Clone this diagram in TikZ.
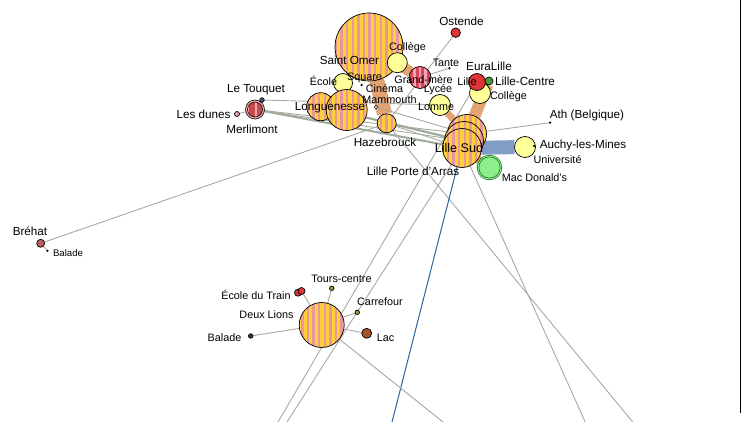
\documentclass[tikz,border=0pt]{standalone}
\usepackage{fontspec}
\setmainfont{Liberation Sans}
\usetikzlibrary{patterns.meta}

\definecolor{stripeyellow}{HTML}{FFD03C}
\definecolor{stripepink}{HTML}{E8979A}
\definecolor{paleyellow}{HTML}{FFFF99}
\definecolor{linkgray}{HTML}{A9A9A0}
\definecolor{greengray}{HTML}{9DAA9C}
\definecolor{bandtan}{HTML}{E3A373}
\definecolor{bandblue}{HTML}{809DC8}
\definecolor{lineblue}{HTML}{2A64A2}
\definecolor{spotred}{HTML}{E03535}
\definecolor{gmred}{HTML}{DC4458}
\definecolor{gmpink}{HTML}{F2A2B4}
\definecolor{merlired}{HTML}{C44C4C}
\definecolor{merlipink}{HTML}{F0A8AC}
\definecolor{dunepink}{HTML}{E6A0A8}
\definecolor{slate}{HTML}{4E5278}
\definecolor{brehatred}{HTML}{B86060}
\definecolor{centregreen}{HTML}{4C9A3C}
\definecolor{mcgreen}{HTML}{8CEE8C}
\definecolor{mcdark}{HTML}{1F6A1F}
\definecolor{olive}{HTML}{8DA838}
\definecolor{lacbrown}{HTML}{A4502A}
\definecolor{darkbrown}{HTML}{5A3020}

\pgfdeclarelayer{edges}
\pgfsetlayers{edges,main}

\begin{document}
\begin{tikzpicture}[x=1pt, y=-1pt]
	\tikzstyle{spot} = [circle, draw=black, line width=0.7pt, inner sep=0pt, outer sep=0pt]
	\tikzstyle{stripy} = [spot, preaction={fill=stripeyellow}, pattern={Lines[angle=90, distance=5.6pt, line width=2.4pt]}, pattern color=stripepink]
	\tikzstyle{redstripy} = [spot, preaction={fill=gmred}, pattern={Lines[angle=90, distance=5.6pt, line width=2.6pt]}, pattern color=gmpink]
	\tikzstyle{pale} = [spot, fill=paleyellow]
	\tikzstyle{pin} = [circle, fill=black, inner sep=0pt, minimum size=3pt]
	\tikzstyle{lbl} = [inner sep=0pt, font=\fontsize{11.7}{13}\selectfont]
	\tikzstyle{lblsmall} = [inner sep=0pt, font=\fontsize{10.8}{12}\selectfont]
	\tikzstyle{link} = [draw=linkgray, line width=0.9pt]
	\tikzstyle{band} = [draw=bandtan, line width=10pt]

	\useasboundingbox (0,0) rectangle (741,422);

	% Bretagne
	\node[spot, fill=brehatred, minimum size=8pt] (brehat) at (40.7,243.3) {};
	\node[pin, minimum size=2.5pt] (brehatbalade) at (47.3,250.7) {};

	% Cote d'Opale
	\node[spot, fill=dunepink, minimum size=5pt] (dunes) at (237,114) {};
	\node[spot, draw=black, double=merlipink, double distance=1.2pt, preaction={fill=merlired}, pattern={Lines[angle=90, distance=8pt, line width=2.5pt]}, pattern color=merlipink, minimum size=17pt] (merlimont) at (255,109.5) {};
	\node[spot, fill=slate, minimum size=4.5pt] (touquet) at (262,100) {};

	% Saint Omer
	\node[stripy, minimum size=68pt] (stomer) at (369,47) {};
	\node[pale, minimum size=20pt] (college) at (397.3,62.7) {};
	\node[pale, minimum size=19pt] (ecole) at (343,83) {};
	\node[stripy, minimum size=28pt] (longuenesseA) at (320.7,106.7) {};
	\node[stripy, minimum size=41pt] (longuenesse) at (346.7,110) {};
	\node[pin, minimum size=2.5pt] (square) at (361.7,85) {};
	\node[circle, draw=black, fill=white, line width=0.6pt, inner sep=0pt, minimum size=3.5pt] (mammouth) at (376,107) {};
	\node[stripy, minimum size=19pt] (hazebrouck) at (386.7,123.3) {};
	\node[redstripy, minimum size=22pt] (grandmere) at (420,77.5) {};
	\node[pin, minimum size=2.5pt] (tante) at (449.3,68.3) {};
	\node[spot, fill=spotred, minimum size=9.5pt] (ostende) at (455.7,32.7) {};
	\node[pale, minimum size=21pt] (lomme) at (440,105) {};

	% Lille
	\node[pale, minimum size=21pt] (collegeB) at (480,93) {};
	\node[spot, fill=spotred, minimum size=17pt] (euralille) at (477,82) {};
	\node[spot, fill=centregreen, minimum size=8pt] (lillecentre) at (489,81) {};
	\node[stripy, minimum size=39pt] (lillesudA) at (467,134) {};
	\node[stripy, minimum size=39pt] (lillesudB) at (464,141) {};
	\node[stripy, minimum size=39pt] (lillesud) at (462,148) {};
	\node[spot, draw=mcdark, double=mcgreen, double distance=0.9pt, fill=mcgreen, minimum size=23pt] (mcdo) at (489.5,167.5) {};
	\node[pale, minimum size=21pt] (auchy) at (525,147) {};
	\node[pin, minimum size=2.5pt] (universite) at (534,146) {};
	\node[pin, minimum size=2.5pt] (ath) at (550,122.7) {};

	% Tours
	\node[stripy, minimum size=45pt] (deuxlions) at (321.7,325) {};
	\node[spot, fill=spotred, minimum size=7pt] (etrain) at (298,292.7) {};
	\node[spot, fill=spotred, minimum size=7pt] (etrainB) at (301.5,291) {};
	\node[spot, fill=olive, minimum size=4.5pt] (tours) at (331.7,288.3) {};
	\node[spot, fill=olive, minimum size=4.5pt] (carrefour) at (357.3,312.3) {};
	\node[spot, fill=lacbrown, minimum size=10pt] (lac) at (366.7,333.3) {};
	\node[spot, fill=darkbrown, minimum size=4.5pt] (balade) at (250.7,336) {};

	% ends of the links that leave the view
	\coordinate (offA) at (275.7,426);
	\coordinate (offB) at (284.5,426);
	\coordinate (offC) at (636,426);
	\coordinate (offD) at (587,426);
	\coordinate (offE) at (391,426);
	\coordinate (offF) at (448,426);

	\begin{pgfonlayer}{edges}
	\clip (0,0) rectangle (741,422);
	\path
	(stomer) edge[band, line width=11pt] (grandmere)
	(stomer) edge[band, line width=15pt] (hazebrouck)
	(lomme) edge[band, line width=7pt] (lillesudA)
	(lillesudA) edge[band, line width=12pt] (lillecentre)
	(lillesud) edge[band, line width=8pt] (mcdo)
	(lillesud) edge[draw=bandblue, line width=14pt] (auchy)

	(brehat) edge[draw=bandtan, line width=1pt] (brehatbalade)
	(brehat) edge[link] (hazebrouck)
	(dunes) edge[link] (merlimont)
	(touquet) edge[link] (lomme)
	(merlimont) edge[link, draw=greengray, line width=2pt] (lillesud)
	(merlimont) edge[link] (lillesudA)
	(merlimont) edge[link] (lillesudB)
	(longuenesseA) edge[link, draw=greengray, line width=2.2pt] (lillesudB)
	(mammouth) edge[link] (lillesudA)
	(hazebrouck) edge[link] (lillesud)
	(ostende) edge[link] (hazebrouck)
	(grandmere) edge[link] (tante)
	(lillesudA) edge[link] (ath)

	(euralille) edge[link] (offA)
	(lillesud) edge[link] (offB)
	(hazebrouck) edge[link] (offC)
	(lillesud) edge[link] (offD)
	(lillesud) edge[draw=lineblue, line width=1pt] (offE)

	(deuxlions) edge[link] (balade)
	(deuxlions) edge[link] (etrainB)
	(deuxlions) edge[link] (tours)
	(deuxlions) edge[link] (carrefour)
	(deuxlions) edge[link] (lac)
	(deuxlions) edge[link] (offF)
	;
	\end{pgfonlayer}

	% labels
	\node[lbl] (brehatl) at (30,231) {Bréhat};
	\node[lblsmall, font=\fontsize{9.6}{11}\selectfont] (brehatbaladel) at (68,253) {Balade};
	\node[lbl] (touquetl) at (256,90) {Le Touquet};
	\node[lbl] (dunesl) at (203.5,114) {Les dunes};
	\node[lbl] (merlimontl) at (252,129) {Merlimont};
	\node[lbl] (ostendel) at (461.5,21) {Ostende};
	\node[lblsmall] (collegel) at (407.5,48) {Collège};
	\node[lbl] (stomerl) at (349.5,60) {Saint Omer};
	\node[lblsmall] (tantel) at (446,63) {Tante};
	\node[lblsmall] (ecolel) at (323.5,81) {École};
	\node[lblsmall] (squarel) at (364.5,78) {Square};
	\node[lblsmall] (grandmerel) at (423.5,80) {Grand-mère};
	\node[lblsmall] (cinemal) at (384.5,89) {Cinéma};
	\node[lblsmall] (lyceel) at (438,90) {Lycée};
	\node[lblsmall] (mammouthl) at (389.5,100) {Mammouth};
	\node[lbl] (longuenessel) at (330,108) {Longuenesse};
	\node[lblsmall] (lommel) at (436,107) {Lomme};
	\node[lbl] (hazebrouckl) at (385,142) {Hazebrouck};
	\node[lbl] (euralillel) at (489,66) {EuraLille};
	\node[lblsmall] (lillel) at (467,82) {Lille};
	\node[lbl] (lillecentrel) at (525,81) {Lille-Centre};
	\node[lblsmall] (collegeBl) at (508.5,97) {Collège};
	\node[lbl] (athl) at (587,115) {Ath (Belgique)};
	\node[inner sep=0pt, font=\fontsize{12.6}{14}\selectfont] (lillesudl) at (459,148) {Lille Sud};
	\node[lbl] (auchyl) at (583,145) {Auchy-les-Mines};
	\node[lblsmall] (universitel) at (557.5,160) {Université};
	\node[lbl] (portearrasl) at (413,171) {Lille Porte d'Arras};
	\node[lblsmall] (mcdol) at (534.5,178) {Mac Donald's};
	\node[lblsmall] (toursl) at (341.5,279) {Tours-centre};
	\node[lblsmall] (etrainl) at (256,295) {École du Train};
	\node[lblsmall] (carrefourl) at (380,302) {Carrefour};
	\node[lblsmall] (deuxlionsl) at (266.5,315) {Deux Lions};
	\node[lblsmall] (baladel) at (224.5,338) {Balade};
	\node[lblsmall] (lacl) at (385.5,338) {Lac};

	\draw[line width=1.3pt] (740.3,0) -- (740.3,413);
\end{tikzpicture}
\end{document}
